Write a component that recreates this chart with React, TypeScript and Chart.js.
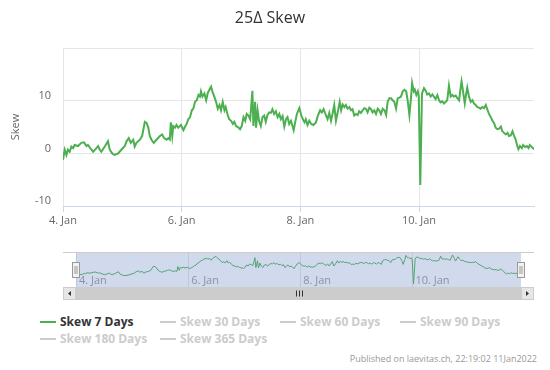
import React, { useEffect, useRef } from "react";
import { Chart, registerables } from "chart.js";

Chart.register(...registerables);

const FONT = "'Open Sans', 'DejaVu Sans', sans-serif";
const GREEN = "#4caf50";

const TITLE = "25Δ Skew";
const Y_TITLE = "Skew";
const CREDITS = "Published on laevitas.ch, 22:19:02 11Jan2022";

// hours after 4 Jan 00:00
const HOURS = [
  0.0, 0.7, 1.4, 2.0, 2.7, 3.4, 4.1, 4.7, 6.1, 7.4, 8.5, 9.5, 10.1, 11.5, 12.2, 13.5, 14.2, 14.9, 15.5, 16.9,
  18.2, 18.9, 19.9, 20.9, 22.3, 23.6, 25.0, 25.7, 26.6, 27.4, 28.4, 29.0, 29.7, 31.1, 32.0, 33.1, 33.8, 34.5,
  35.1, 35.8, 36.7, 37.8, 39.2, 40.1, 40.9, 41.9, 42.6, 43.2, 43.6, 44.2, 44.6, 45.3, 45.9, 46.6, 47.7,
  48.7, 49.4, 50.0, 50.7, 51.4, 52.1, 52.7, 53.4, 54.1, 54.8, 55.4, 55.8, 56.4, 57.2, 57.9, 58.5, 59.2, 59.9,
  60.4, 61.2, 61.9, 62.6, 63.3, 63.9, 64.6, 65.3, 65.8, 66.5, 67.2, 68.0, 68.7, 69.3, 70.0, 71.0, 71.6, 72.3,
  73.0, 73.7, 74.3, 75.0, 75.7, 76.1, 76.6, 77.0, 77.7, 78.1, 78.7, 79.3, 80.0, 80.7, 81.4, 82.0, 82.7, 83.4,
  84.1, 84.7, 85.4, 86.1, 86.8, 87.5, 88.1, 88.8, 89.5, 90.2, 90.8, 91.5, 92.2, 93.3, 93.9, 94.6, 95.6, 96.4,
  97.3, 97.7, 98.2, 98.9, 99.6, 100.4, 101.3, 102.3, 103.1, 104.0, 104.7, 105.4, 106.3, 107.0, 107.7, 108.4,
  109.0, 109.7, 110.4, 111.2, 111.9, 112.5, 113.1, 113.8, 114.4, 115.1, 115.8, 116.5, 117.1, 117.8, 118.5,
  119.2, 119.8, 120.5, 121.2, 121.9, 122.5, 123.2, 123.9, 124.6, 125.2, 125.9, 126.6, 127.3, 127.9, 128.6,
  129.3, 130.0, 130.7, 131.3, 132.0, 132.7, 133.3, 134.0, 134.7, 135.4, 136.1, 136.7, 137.4, 138.1, 138.8,
  139.4, 140.1, 140.8, 141.2, 141.9, 142.3, 142.9, 143.5, 143.9, 144.5, 145.2,
  146.0, 146.7, 147.3, 148.0, 148.7, 149.4, 150.0, 150.7, 151.4, 152.1, 152.7, 153.4, 154.1, 154.8, 155.4,
  156.1, 156.8, 157.5, 158.1, 158.8, 159.5, 160.2, 160.8, 161.2, 161.8, 162.5, 163.1, 163.5, 164.2, 164.9,
  165.6, 166.2, 166.9, 167.6, 168.3, 168.9, 169.6, 170.3, 171.0, 171.6, 172.3, 173.0, 173.7, 174.3, 175.0,
  175.7, 176.4, 177.1, 177.7, 178.4, 179.1, 179.8, 180.4, 181.1, 181.8, 182.5, 183.1, 183.8, 184.2, 184.8,
  185.6, 186.1, 186.9, 187.6, 188.3, 188.8, 189.6, 190.5,
];

const SKEW_7D = [
  -1.2, 0.7, -0.3, 0.7, 0.3, 1.3, 1.0, 1.6, 1.4, 2.0, 2.1, 1.4, 1.6, 0.7, 0.3, 1.0, 1.4, 0.7, 0.3, 1.3,
  2.3, 0.7, 0.0, -0.3, 0.0, 0.7, 1.4, 2.3, 2.9, 2.0, 2.6, 1.3, 2.0, 2.6, 3.3, 6.0, 5.8, 4.9,
  3.3, 2.6, 2.0, 2.6, 3.3, 3.6, 2.9, 2.6, 2.9, 2.6, 5.9, 3.3, 5.2, 4.9, 5.4, 4.9, 5.4,
  4.4, 5.1, 5.6, 6.5, 6.9, 8.2, 8.5, 9.8, 10.1, 11.1, 10.8, 11.8, 10.8, 11.4, 10.1, 11.4, 12.1, 12.7,
  11.8, 10.8, 9.8, 8.5, 9.2, 8.2, 9.8, 8.2, 8.8, 7.5, 6.5, 6.2, 5.6, 6.0, 5.2, 4.9, 4.6, 5.2,
  6.9, 6.2, 7.5, 7.2, 6.5, 8.8, 11.9, 5.2, 9.8, 4.9, 8.2, 6.2, 5.2, 6.9, 7.2, 6.0, 7.3, 7.8,
  7.7, 8.4, 7.5, 8.0, 6.9, 7.5, 6.5, 7.1, 5.1, 6.5, 6.9, 5.6, 6.2, 4.4, 5.9, 7.5, 8.6, 7.2,
  6.2, 5.9, 6.5, 5.4, 6.2, 5.6, 5.4, 5.9, 7.2, 8.2, 7.8, 8.4, 7.3, 6.5, 7.7, 6.2,
  7.5, 9.2, 6.2, 8.0, 9.8, 8.2, 9.3, 8.8, 9.2, 8.5, 8.8, 8.2, 8.4, 7.2, 7.5,
  7.3, 8.0, 7.7, 8.2, 8.6, 8.5, 7.8, 8.7, 8.4, 7.8, 8.2, 7.5, 8.5, 8.2, 7.5,
  8.5, 8.2, 7.3, 9.8, 10.5, 10.5, 10.1, 9.8, 8.5, 10.5, 10.6, 10.8, 11.8, 12.1, 11.8,
  10.1, 7.3, 10.8, 13.4, 11.8, 12.1, 11.1, 11.8, 10.8, -6.0, 11.4,
  12.4, 11.9, 11.2, 11.4, 10.8, 11.2, 10.8, 10.3, 11.1, 10.1, 9.7, 9.9, 9.5, 9.8, 10.1,
  12.9, 10.8, 11.1, 10.8, 11.0, 10.5, 10.1, 12.4, 13.7, 11.8, 9.5, 11.4, 12.5, 10.8, 9.8,
  10.1, 9.5, 9.2, 8.8, 8.7, 8.5, 8.8, 8.6, 9.2, 8.4, 7.5, 6.9, 6.2, 5.8, 4.9,
  4.6, 4.7, 5.1, 4.2, 3.9, 3.6, 3.9, 3.3, 3.4, 4.2, 3.3, 2.6, 1.3, 0.8, 1.4,
  1.0, 1.6, 1.2, 1.4, 1.0, 1.6, 1.2, 0.8,
];

const X_TICKS = [0, 48, 96, 144];
const X_TICK_LABELS = ["4. Jan", "6. Jan", "8. Jan", "10. Jan"];
const Y_TICKS = [-10, 0, 10, 20];
const NAV_Y_RANGE = [-8, 15.7];

const LEGEND_ITEMS = ["Skew 7 Days", "Skew 30 Days", "Skew 60 Days", "Skew 90 Days", "Skew 180 Days", "Skew 365 Days"];
const LEGEND_VISIBLE = [true, false, false, false, false, false];

const points = () => HOURS.map((h, i) => ({ x: h, y: SKEW_7D[i] }));
const tickLabel = (v: any) => {
  const i = X_TICKS.indexOf(Number(v));
  return i >= 0 ? X_TICK_LABELS[i] : "";
};

const navDecor = {
  id: "navDecor",
  afterDatasetsDraw(chart: any) {
    const { ctx, chartArea: ca } = chart;
    const outerL = 63;
    const outerR = 534;
    ctx.save();
    // mask over selected range
    ctx.fillStyle = "rgba(102,133,194,0.3)";
    ctx.fillRect(ca.left, ca.top, ca.right - ca.left, ca.bottom - ca.top);
    // outline
    ctx.strokeStyle = "#cccccc";
    ctx.lineWidth = 1;
    ctx.beginPath();
    ctx.moveTo(outerL, Math.round(ca.top) + 0.5);
    ctx.lineTo(outerR, Math.round(ca.top) + 0.5);
    ctx.stroke();
    // scrollbar
    const sTop = Math.round(ca.bottom);
    const sH = 13;
    ctx.fillStyle = "#f2f2f2";
    ctx.fillRect(outerL, sTop, outerR - outerL, sH);
    ctx.fillStyle = "#cccccc";
    ctx.fillRect(Math.round(ca.left), sTop, Math.round(ca.right) - Math.round(ca.left), sH);
    const btn = (x0: number, x1: number, dir: number) => {
      ctx.fillStyle = "#e6e6e6";
      ctx.fillRect(x0, sTop, x1 - x0, sH);
      ctx.strokeStyle = "#cccccc";
      ctx.strokeRect(x0 + 0.5, sTop + 0.5, x1 - x0 - 1, sH - 1);
      const cx = (x0 + x1) / 2;
      const cy = sTop + sH / 2;
      ctx.fillStyle = "#333333";
      ctx.beginPath();
      ctx.moveTo(cx - 1.5 * dir, cy);
      ctx.lineTo(cx + 1.5 * dir, cy - 2.5);
      ctx.lineTo(cx + 1.5 * dir, cy + 2.5);
      ctx.closePath();
      ctx.fill();
    };
    btn(outerL, Math.round(ca.left), 1);
    btn(Math.round(ca.right), outerR, -1);
    // rifles
    const mid = Math.round((ca.left + ca.right) / 2);
    ctx.strokeStyle = "#333333";
    ctx.beginPath();
    for (const d of [-3, 0, 3]) {
      ctx.moveTo(mid + d + 0.5, sTop + 3.5);
      ctx.lineTo(mid + d + 0.5, sTop + sH - 3.5);
    }
    ctx.stroke();
    // handles
    const midY = Math.round((ca.top + ca.bottom) / 2);
    for (const hx of [ca.left, ca.right]) {
      const x = Math.round(hx);
      ctx.fillStyle = "#f2f2f2";
      ctx.fillRect(x - 3.5, midY - 7.5, 7, 15);
      ctx.strokeStyle = "#999999";
      ctx.strokeRect(x - 3.5, midY - 7.5, 7, 15);
      ctx.beginPath();
      ctx.moveTo(x - 1, midY - 4);
      ctx.lineTo(x - 1, midY + 4);
      ctx.moveTo(x + 1, midY - 4);
      ctx.lineTo(x + 1, midY + 4);
      ctx.stroke();
    }
    ctx.restore();
  },
};

export default function App() {
  const mainRef = useRef<HTMLCanvasElement>(null);
  const navRef = useRef<HTMLCanvasElement>(null);

  useEffect(() => {
    const main = new Chart(mainRef.current as HTMLCanvasElement, {
      type: "line",
      data: {
        datasets: [
          {
            label: LEGEND_ITEMS[0],
            data: points(),
            borderColor: GREEN,
            borderWidth: 2,
            pointRadius: 0,
            pointHoverRadius: 0,
            tension: 0,
            fill: false,
          },
        ],
      },
      options: {
        animation: false,
        responsive: false,
        maintainAspectRatio: false,
        devicePixelRatio: 1,
        events: [],
        layout: { padding: { left: 6, right: 16, top: 0, bottom: 0 } },
        plugins: {
          legend: { display: false },
          tooltip: { enabled: false },
          title: {
            display: true,
            text: TITLE,
            color: "#333333",
            font: { family: FONT, size: 16, weight: "normal" },
            padding: { top: 9, bottom: 20 },
          },
        },
        scales: {
          x: {
            type: "linear",
            min: HOURS[0],
            max: HOURS[HOURS.length - 1],
            afterBuildTicks: (s: any) => {
              s.ticks = X_TICKS.map((v) => ({ value: v }));
            },
            afterFit: (s: any) => {
              s.height = 34;
            },
            grid: { color: "#e6e6e6", tickColor: "#ccd6eb", tickLength: 6, drawTicks: true },
            border: { color: "#ccd6eb" },
            ticks: {
              callback: (v: any) => tickLabel(v),
              color: "#666666",
              font: { family: FONT, size: 11 },
              padding: 2,
              maxRotation: 0,
              autoSkip: false,
            },
          },
          y: {
            min: Y_TICKS[0],
            max: Y_TICKS[Y_TICKS.length - 1],
            afterBuildTicks: (s: any) => {
              s.ticks = Y_TICKS.map((v) => ({ value: v }));
            },
            afterFit: (s: any) => {
              s.width = 57;
            },
            grid: { color: "#e6e6e6", drawTicks: false },
            border: { display: false },
            ticks: {
              callback: (v: any) => (v === Y_TICKS[Y_TICKS.length - 1] ? "" : String(v)),
              color: "#666666",
              font: { family: FONT, size: 11 },
              padding: 12,
              labelOffset: -5,
            },
            title: {
              display: true,
              text: Y_TITLE,
              color: "#666666",
              font: { family: FONT, size: 11 },
              padding: { top: 3, bottom: 0 },
            },
          },
        },
      },
    } as any);

    const nav = new Chart(navRef.current as HTMLCanvasElement, {
      type: "line",
      data: {
        datasets: [
          {
            data: points(),
            borderColor: GREEN,
            borderWidth: 1,
            pointRadius: 0,
            pointHoverRadius: 0,
            tension: 0,
            fill: false,
          },
        ],
      },
      options: {
        animation: false,
        responsive: false,
        maintainAspectRatio: false,
        devicePixelRatio: 1,
        events: [],
        layout: { padding: { left: 76, right: 29, top: 12, bottom: 0 } },
        plugins: { legend: { display: false }, tooltip: { enabled: false }, title: { display: false } },
        scales: {
          x: {
            type: "linear",
            min: HOURS[0],
            max: HOURS[HOURS.length - 1],
            afterBuildTicks: (s: any) => {
              s.ticks = X_TICKS.map((v) => ({ value: v }));
            },
            afterFit: (s: any) => {
              s.height = 18;
            },
            grid: { color: "#e6e6e6", drawTicks: false },
            border: { display: false },
            ticks: {
              callback: (v: any) => tickLabel(v),
              color: "#999999",
              font: { family: FONT, size: 11 },
              mirror: true,
              padding: 0,
              align: "start",
              labelOffset: 3,
              maxRotation: 0,
              autoSkip: false,
            },
          },
          y: { display: false, min: NAV_Y_RANGE[0], max: NAV_Y_RANGE[1] },
        },
      },
      plugins: [navDecor],
    } as any);

    return () => {
      main.destroy();
      nav.destroy();
    };
  }, []);

  const legendPos = [
    [40, 322],
    [160, 322],
    [280, 322],
    [400, 322],
    [40, 339],
    [160, 339],
  ];

  return (
    <div style={{ position: "absolute", left: 0, top: 0, width: 550, height: 370, background: "#fff", fontFamily: FONT }}>
      <canvas ref={mainRef} width={550} height={240} style={{ position: "absolute", left: 0, top: 0, width: 550, height: 240 }} />
      <canvas ref={navRef} width={550} height={65} style={{ position: "absolute", left: 0, top: 240, width: 550, height: 65 }} />
      {LEGEND_ITEMS.map((name, i) => {
        const [x, y] = legendPos[i];
        const col = LEGEND_VISIBLE[i] ? "#333333" : "#cccccc";
        const sym = LEGEND_VISIBLE[i] ? GREEN : "#cccccc";
        return (
          <div key={name}>
            <div style={{ position: "absolute", left: x, top: y - 1, width: 16, height: 2, background: sym }} />
            <div
              style={{
                position: "absolute",
                left: x + 20,
                top: y - 9,
                height: 18,
                lineHeight: "18px",
                fontSize: 12,
                fontWeight: "bold",
                color: col,
                whiteSpace: "nowrap",
              }}
            >
              {name}
            </div>
          </div>
        );
      })}
      <div
        style={{
          position: "absolute",
          right: 550 - 537,
          top: 353,
          height: 12,
          lineHeight: "12px",
          fontSize: 9,
          color: "#999999",
          whiteSpace: "nowrap",
        }}
      >
        {CREDITS}
      </div>
    </div>
  );
}
